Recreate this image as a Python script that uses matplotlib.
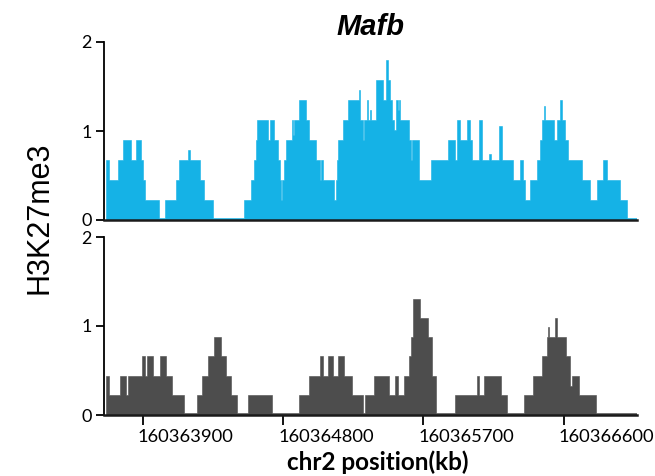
import numpy as np
import matplotlib
matplotlib.use("Agg")
import matplotlib.pyplot as plt
import matplotlib.transforms as mtrans

# ---------------- data ----------------
title = "Mafb"
ylabel = "H3K27me3"
xlabel = "chr2 position(kb)"
x_ticks = [160363900, 160364800, 160365700, 160366600]
y_ticks = [0, 1, 2]
region_end = 160367071

top_starts = [160363660, 160363679, 160363743, 160363769, 160363826, 160363858, 160363890,
              160363903, 160363916, 160364006, 160364044, 160364114, 160364134, 160364191,
              160364204, 160364268, 160364294, 160364351, 160364550, 160364594, 160364614,
              160364626, 160364633, 160364703, 160364716, 160364742, 160364767, 160364780,
              160364786, 160364793, 160364806, 160364818, 160364857, 160364863, 160364870,
              160364902, 160364946, 160364966, 160365010, 160365036, 160365042, 160365055,
              160365126, 160365138, 160365145, 160365151, 160365183, 160365215, 160365286,
              160365292, 160365311, 160365318, 160365337, 160365343, 160365356, 160365362,
              160365394, 160365439, 160365458, 160365471, 160365484, 160365497, 160365510,
              160365522, 160365535, 160365542, 160365548, 160365606, 160365618, 160365625,
              160365670, 160365746, 160365855, 160365900, 160365913, 160365932, 160365977,
              160365996, 160366009, 160366054, 160366073, 160366124, 160366137, 160366188,
              160366207, 160366278, 160366322, 160366342, 160366354, 160366386, 160366431,
              160366450, 160366463, 160366476, 160366482, 160366540, 160366559, 160366578,
              160366591, 160366610, 160366630, 160366719, 160366770, 160366815, 160366854,
              160366879, 160366962, 160367007]
top_values = [0.675, 0.45, 0.675, 0.9, 0.675, 0.9, 0.675,
              0.45, 0.225, 0.02, 0.225, 0.45, 0.675, 0.79,
              0.675, 0.45, 0.225, 0.02, 0.225, 0.45, 0.675,
              0.9, 1.125, 0.9, 1.125, 0.9, 0.675, 0.45,
              0.225, 0.45, 0.675, 0.9, 1.125, 0.95, 1.125,
              1.35, 1.125, 0.9, 0.675, 0.45, 0.675, 0.45,
              0.225, 0.45, 0.675, 0.9, 1.125, 1.35, 1.46,
              1.125, 0.9, 1.125, 1.35, 1.125, 1.24, 1.125,
              1.575, 1.35, 1.8, 1.575, 1.35, 1.125, 1.01,
              1.35, 1.24, 1.35, 1.125, 0.9, 0.675, 0.9,
              0.45, 0.675, 0.9, 0.675, 1.125, 0.9, 1.125,
              0.9, 0.675, 1.125, 0.675, 0.74, 0.675, 1.06,
              0.675, 0.45, 0.675, 0.45, 0.225, 0.45, 0.675,
              0.9, 1.125, 1.28, 1.125, 0.9, 1.125, 1.35,
              1.125, 0.9, 0.675, 0.45, 0.225, 0.45, 0.675,
              0.45, 0.225, 0.02]

bot_starts = [160363660, 160363679, 160363750, 160363788, 160363807, 160363897, 160363910,
              160363929, 160363967, 160364012, 160364050, 160364089, 160364166, 160364249,
              160364281, 160364319, 160364358, 160364402, 160364434, 160364466, 160364505,
              160364575, 160364729, 160364902, 160364966, 160365036, 160365055, 160365087,
              160365119, 160365151, 160365190, 160365241, 160365311, 160365324, 160365382,
              160365478, 160365516, 160365535, 160365574, 160365606, 160365618, 160365631,
              160365676, 160365727, 160365753, 160365778, 160365906, 160366047, 160366060,
              160366086, 160366201, 160366239, 160366348, 160366406, 160366463, 160366495,
              160366502, 160366508, 160366546, 160366559, 160366617, 160366642, 160366655,
              160366700, 160366809]
bot_values = [0.44, 0.22, 0.44, 0.22, 0.44, 0.66, 0.44,
              0.66, 0.44, 0.66, 0.44, 0.22, 0.02, 0.22,
              0.44, 0.66, 0.88, 0.66, 0.44, 0.22, 0.02,
              0.22, 0.02, 0.22, 0.44, 0.66, 0.44, 0.66,
              0.44, 0.66, 0.44, 0.22, 0.02, 0.22, 0.44,
              0.22, 0.44, 0.22, 0.44, 0.66, 0.88, 1.3,
              1.09, 0.88, 0.44, 0.02, 0.22, 0.44, 0.22,
              0.44, 0.22, 0.02, 0.22, 0.44, 0.66, 0.88,
              0.99, 0.88, 1.09, 0.88, 0.66, 0.33, 0.44,
              0.22, 0.02]

assert len(top_starts) == len(top_values)
assert len(bot_starts) == len(bot_values)

top_color = "#15B2E6"
bot_color = "#4D4D4D"

# ---------------- figure ----------------
fig = plt.figure(figsize=(6.55, 4.76), dpi=100)
W, H = 655, 476
def axrect(l, t, r, b):
    return [l / W, 1 - b / H, (r - l) / W, (b - t) / H]

ax1 = fig.add_axes(axrect(104, 42, 637, 220))
ax2 = fig.add_axes(axrect(104, 237, 637, 415))

tick_font = "Lato"

def step_polygon(starts, vals, end):
    edges = np.array(starts + [end], dtype=float)
    v = np.array(vals, dtype=float)
    px = np.concatenate([[edges[0]], np.repeat(edges, 2)[1:-1], [edges[-1]]])
    py = np.concatenate([[0.0], np.repeat(v, 2), [0.0]])
    return px, py

for ax, starts, vals, col in [(ax1, top_starts, top_values, top_color),
                               (ax2, bot_starts, bot_values, bot_color)]:
    px, py = step_polygon(starts, vals, region_end)
    ax.fill(px, py, color=col, linewidth=0.4, edgecolor=col)
    ax.set_xlim(160363650, region_end)
    ax.set_ylim(0, 2)
    ax.set_yticks(y_ticks)
    ax.set_yticklabels([str(v) for v in y_ticks], fontsize=13, family=tick_font)
    for s in ["top", "right"]:
        ax.spines[s].set_visible(False)
    ax.spines["left"].set_linewidth(1.3)
    ax.spines["bottom"].set_linewidth(1.8)
    ax.spines["bottom"].set_color("#1a1a1a")
    ax.tick_params(axis="y", length=6, width=1.3, pad=3)

ax1.set_xticks([])
ax2.set_xticks(x_ticks)
ax2.set_xticklabels([str(v) for v in x_ticks], fontsize=13.2, family=tick_font)
ax2.tick_params(axis="x", length=7, width=1.3, pad=3)
shift = mtrans.ScaledTranslation(-5 / 100, 0, fig.dpi_scale_trans)
for lab in ax2.get_xticklabels():
    lab.set_horizontalalignment("left")
    lab.set_transform(lab.get_transform() + shift)

ax1.set_title(title, fontsize=21, fontweight="bold", style="italic",
              family="Liberation Sans", pad=5)
fig.text(378 / W, 1 - 462 / H, xlabel, fontsize=17.5, fontweight="bold",
         family=tick_font, ha="center", va="center")
fig.text(40 / W, 1 - 218 / H, ylabel, rotation=90, fontsize=22,
         family="Liberation Sans", ha="center", va="center")

fig.savefig("out.png", dpi=100)
